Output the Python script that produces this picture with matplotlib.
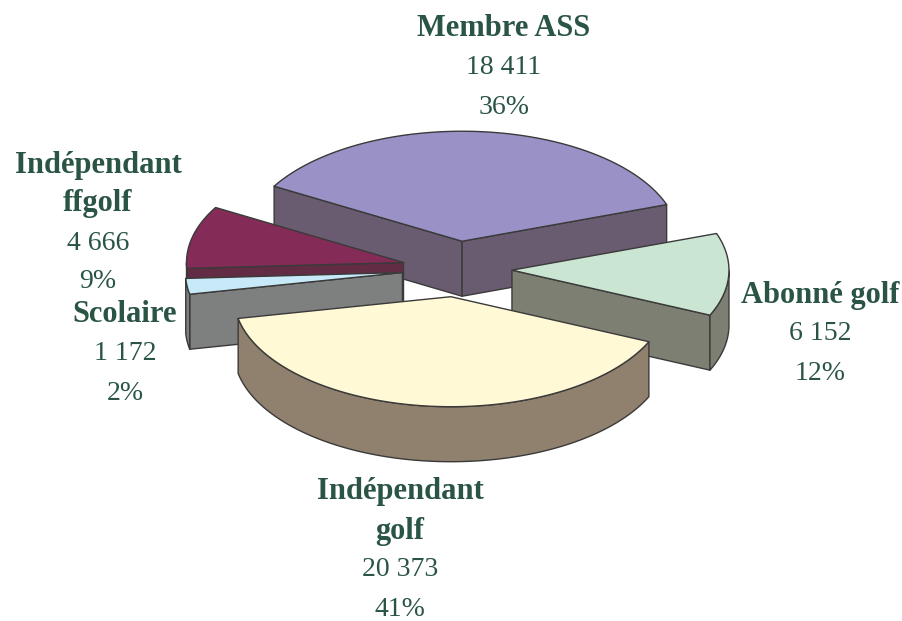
import numpy as np
import matplotlib
matplotlib.use("Agg")
import matplotlib.pyplot as plt
from matplotlib.patches import Polygon

# slice data, clockwise from the start angle
names = ["Membre ASS", "Abonné golf", "Indépendant\ngolf", "Scolaire", "Indépendant\nffgolf"]
values = [18411, 6152, 20373, 1172, 4666]
value_labels = ["18 411", "6 152", "20 373", "1 172", "4 666"]
pct_labels = ["36%", "12%", "41%", "2%", "9%"]

top_colors = ["#9A91C6", "#CBE5D3", "#FFF9D6", "#C8EAF8", "#842C57"]
side_colors = ["#6A5C70", "#7D7F72", "#90806E", "#7E7F7F", "#632C45"]
label_x = [504, 820, 400, 125, 98]
label_y = [29, 295, 492, 315, 165]
draw_order = [0, 4, 3, 1, 2]

start_angle = 150
cx, cy = 457, 269
rx, ry = 217, 110
explode = 55
depth = 55
edge = "#3A3A3A"
text_col = "#2A5544"
line_h = 39

fig = plt.figure(figsize=(9.03, 6.21), dpi=100)
ax = fig.add_axes([0, 0, 1, 1])
ax.set_xlim(0, 903)
ax.set_ylim(621, 0)
ax.axis("off")


def pt(x0, y0, deg):
    a = np.radians(deg)
    return x0 + rx * np.cos(a), y0 - ry * np.sin(a)


def face(points, color, z):
    ax.add_patch(Polygon(points, closed=True, facecolor=color, edgecolor=edge, lw=1, joinstyle="round", zorder=z))


spans = np.array(values) / sum(values) * 360
ends = start_angle - np.cumsum(spans)
starts = ends + spans

for z, i in enumerate(draw_order):
    a0, a1 = starts[i], ends[i]
    mid = np.radians((a0 + a1) / 2)
    x0 = cx + explode * np.cos(mid)
    y0 = cy - explode * ry / rx * np.sin(mid)
    base = z * 10

    # cut faces, only the ones turned towards the viewer
    for ang, show in ((a0, np.cos(np.radians(a0)) < 0), (a1, np.cos(np.radians(a1)) > 0)):
        if show:
            px, py = pt(x0, y0, ang)
            face([(x0, y0), (px, py), (px, py + depth), (x0, y0 + depth)], side_colors[i], base + 1)

    # outer wall, lower half of the ellipse only
    angs = np.linspace(a0, a1, 120)
    angs = angs[np.sin(np.radians(angs)) <= 0]
    if len(angs) > 1:
        xs, ys = pt(x0, y0, angs)
        wall = list(zip(xs, ys)) + list(zip(xs[::-1], ys[::-1] + depth))
        face(wall, side_colors[i], base + 2)

    # top
    angs = np.linspace(a0, a1, 120)
    xs, ys = pt(x0, y0, angs)
    face([(x0, y0)] + list(zip(xs, ys)), top_colors[i], base + 3)

for i in range(len(names)):
    y = label_y[i]
    for part in names[i].split("\n"):
        ax.text(label_x[i], y, part, ha="center", va="center", family="Liberation Serif",
                fontsize=22, fontweight="bold", color=text_col)
        y += line_h
    for part in (value_labels[i], pct_labels[i]):
        ax.text(label_x[i], y, part, ha="center", va="center", family="Liberation Serif",
                fontsize=20, color=text_col)
        y += line_h

fig.savefig("out.png", dpi=100)
